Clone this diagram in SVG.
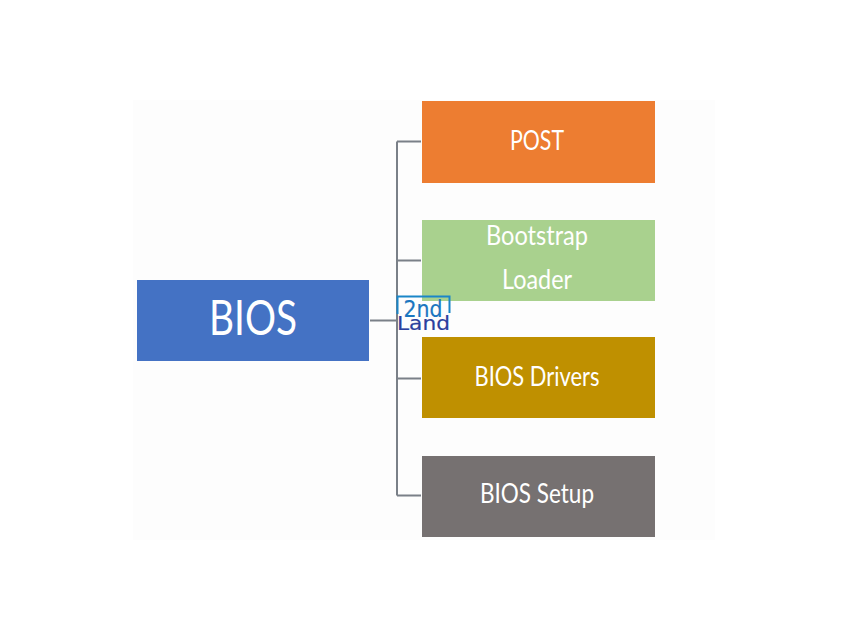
<svg xmlns="http://www.w3.org/2000/svg" width="850" height="638" viewBox="0 0 850 638">
<style>
.n{stroke:none}
.t{font-family:Lato,"Liberation Sans",sans-serif;text-anchor:middle;fill:#fff}
.c{fill:none;stroke:#7a8088;stroke-width:2}
.w{font-family:"DejaVu Sans",sans-serif;text-anchor:middle;stroke-width:.2}
</style>
<rect width="850" height="638" fill="#fff"/>
<rect x="133" y="100" width="582" height="440" fill="#fdfdfd"/>
<g id="connectors">
<path class="c" d="M370 320.500H397M397 141.500V495.500M397 141.500H421M397 260.500H421M397 378.500H421M397 495.500H421"/>
</g>
<g id="bios"><rect class="n" x="137" y="280" width="232" height="81" fill="#4472c4"/><text class="t" x="253" y="335" font-size="48" textLength="88" lengthAdjust="spacingAndGlyphs">BIOS</text></g>
<g id="post"><rect class="n" x="422" y="101" width="233" height="82" fill="#ed7d31"/><text class="t" x="537" y="150" font-size="26" textLength="54" lengthAdjust="spacingAndGlyphs">POST</text></g>
<g id="bootstrap"><rect class="n" x="422" y="220" width="233" height="81" fill="#a9d18e"/><text class="t" x="537" y="245" font-size="26" textLength="102" lengthAdjust="spacingAndGlyphs">Bootstrap</text><text class="t" x="537" y="289" font-size="26" textLength="70" lengthAdjust="spacingAndGlyphs">Loader</text></g>
<g id="drivers"><rect class="n" x="422" y="337" width="233" height="81" fill="#bf9000"/><text class="t" x="537" y="386" font-size="26" textLength="125" lengthAdjust="spacingAndGlyphs">BIOS Drivers</text></g>
<g id="setup"><rect class="n" x="422" y="456" width="233" height="81" fill="#767171"/><text class="t" x="537" y="503" font-size="26" textLength="114" lengthAdjust="spacingAndGlyphs">BIOS Setup</text></g>
<g id="watermark">
<path fill="none" stroke="#1a86c8" stroke-width="2" d="M397.500 314V296.500H449.500V313"/>
<text class="w" x="423" y="317" font-size="23" fill="#1a76c0" stroke="#1a76c0" textLength="39" lengthAdjust="spacingAndGlyphs">2nd</text>
<text class="w" x="423.500" y="330" font-size="19" fill="#2b3f9e" stroke="#2b3f9e" textLength="53" lengthAdjust="spacingAndGlyphs">Land</text>
</g>
</svg>
